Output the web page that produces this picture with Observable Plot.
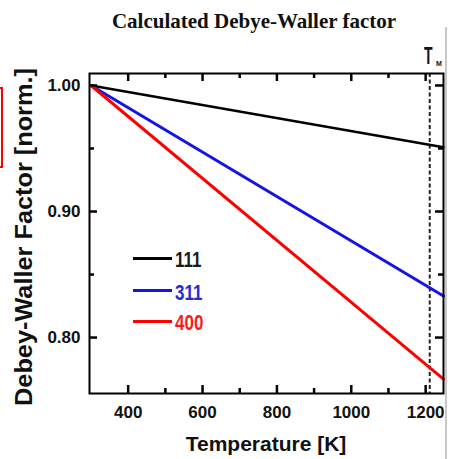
<!DOCTYPE html>
<html><head><meta charset="utf-8">
<script src="https://cdn.jsdelivr.net/npm/d3@7"></script>
<script src="https://cdn.jsdelivr.net/npm/@observablehq/plot@0.6"></script>
<style>
body{margin:0;background:#fff;}
#wrap{position:relative;width:450px;height:459px;overflow:hidden;font-family:"Liberation Sans",Arial,sans-serif;background:#fff;}
#chart{position:absolute;left:0;top:0;}
</style></head><body>
<div id="wrap">
<div id="chart"></div>
</div>
<script>
// ---- data ----
const temperatures = [300, 1248];
const dw111 = [1.000, 0.951];
const dw311 = [1.000, 0.833];
const dw400 = [1.000, 0.767];
const reflections = ["111", "311", "400"];
const meltingT = [1211];
const xMajor = [400, 600, 800, 1000, 1200];
const xMinor = [500, 700, 900, 1100];
const yMajor = [0.80, 0.90, 1.00];
const yMinor = [0.85, 0.95];
const titleText = "Calculated Debye-Waller factor";
const xLabel = "Temperature [K]";
const yLabel = "Debey-Waller Factor [norm.]";

// ---- layout / styles ----
const W = 450, H = 459, mL = 89, mR = 7, mT = 73, mB = 66;
const frameW = W - mL - mR, frameH = H - mT - mB;
const lineColors = {"111": "#000000", "311": "#1414e6", "400": "#ff0000"};
const textColors = {"111": "#1a1a1a", "311": "#2a2ad0", "400": "#ff1a1a"};
const lineWidths = {"111": 2.5, "311": 3, "400": 3};

const seriesValues = {"111": dw111, "311": dw311, "400": dw400};
const rows = reflections.flatMap(h => temperatures.map((t, i) => ({T: t, f: seriesValues[h][i], hkl: h})));

const tk = {stroke: "#000", strokeWidth: 2.5};
const MAJ = 8, MIN = 5;
const plot = Plot.plot({
  width: W, height: H,
  marginLeft: mL, marginRight: mR, marginTop: mT, marginBottom: mB,
  style: {fontFamily: "'Liberation Sans', Arial, sans-serif", background: "transparent", color: "#111"},
  x: {domain: [296, 1248]},
  y: {domain: [0.7556, 1.0095]},
  marks: [
    Plot.ruleX(meltingT, {x: d => d, stroke: "#222", strokeWidth: 2, strokeDasharray: "4,2.5"}),
    ...reflections.map(h => Plot.line(rows.filter(r => r.hkl === h), {x: "T", y: "f", stroke: lineColors[h], strokeWidth: lineWidths[h]})),
    Plot.tickX(xMajor, {x: d => d, insetTop: frameH - MAJ, ...tk}),
    Plot.tickX(xMajor, {x: d => d, insetBottom: frameH - MAJ, ...tk}),
    Plot.tickX(xMinor, {x: d => d, insetTop: frameH - MIN, ...tk}),
    Plot.tickX(xMinor, {x: d => d, insetBottom: frameH - MIN, ...tk}),
    Plot.tickY(yMajor, {y: d => d, insetRight: frameW - MAJ, ...tk}),
    Plot.tickY(yMajor, {y: d => d, insetLeft: frameW - MAJ, ...tk}),
    Plot.tickY(yMinor, {y: d => d, insetRight: frameW - MIN, ...tk}),
    Plot.tickY(yMinor, {y: d => d, insetLeft: frameW - MIN, ...tk}),
    Plot.axisX({ticks: xMajor, tickSize: 0, tickPadding: 12, tickFormat: d => String(d), fontSize: 17, fontWeight: "bold", fill: "#111", label: null}),
    Plot.axisY({ticks: yMajor, tickSize: 0, tickPadding: 9, tickFormat: d3.format(".2f"), fontSize: 17, fontWeight: "bold", fill: "#111", label: null}),
    Plot.frame({stroke: "#000", strokeWidth: 2})
  ]
});
document.getElementById("chart").appendChild(plot);

const wrap = document.getElementById("wrap");
function add(txt, css) {
  const d = document.createElement("div");
  d.textContent = txt;
  Object.assign(d.style, css);
  wrap.appendChild(d);
  return d;
}
// title
add(titleText, {position: "absolute", left: "254px", top: "11px", transform: "translateX(-50%)", fontFamily: "'Liberation Serif', 'Times New Roman', serif", fontWeight: "bold", fontSize: "21px", lineHeight: "21px", whiteSpace: "nowrap", color: "#111"});
// x label
add(xLabel, {position: "absolute", left: "266px", top: "433px", transform: "translateX(-50%)", fontWeight: "bold", fontSize: "21px", lineHeight: "21px", whiteSpace: "nowrap", color: "#111"});
// y label
add(yLabel, {position: "absolute", left: "24px", top: "237px", transform: "translate(-50%,-50%) rotate(-90deg) scale(1.1,1)", fontWeight: "bold", fontSize: "23px", lineHeight: "23px", whiteSpace: "nowrap", color: "#111"});
// T_M label
add("T", {position: "absolute", left: "424px", top: "43px", transformOrigin: "top left", transform: "scale(1,1.75)", fontWeight: "bold", fontSize: "14px", lineHeight: "14px", color: "#111"});
add("M", {position: "absolute", left: "436px", top: "60px", fontWeight: "bold", fontSize: "7px", lineHeight: "7px", color: "#111"});
// legend
const legLineY = {"111": 258.3, "311": 290, "400": 321.5};
const legTextTop = {"111": 249, "311": 282, "400": 312};
reflections.forEach(h => {
  add("", {position: "absolute", left: "133px", width: "39px", top: (legLineY[h] - lineWidths[h] / 2) + "px", height: lineWidths[h] + "px", background: lineColors[h]});
  add(h, {position: "absolute", left: "175px", top: legTextTop[h] + "px", transformOrigin: "top left", transform: "scale(1,1.3)", fontWeight: "bold", fontSize: "17px", lineHeight: "17px", color: textColors[h]});
});
// right separator and left red box edge (from the source image)
add("", {position: "absolute", left: "445px", top: "27px", width: "2px", height: "440px", background: "#c8c8c8"});
add("", {position: "absolute", left: "-10px", top: "87px", width: "13px", height: "81px", border: "2px solid #ff0000", boxSizing: "border-box"});
</script>
</body></html>
